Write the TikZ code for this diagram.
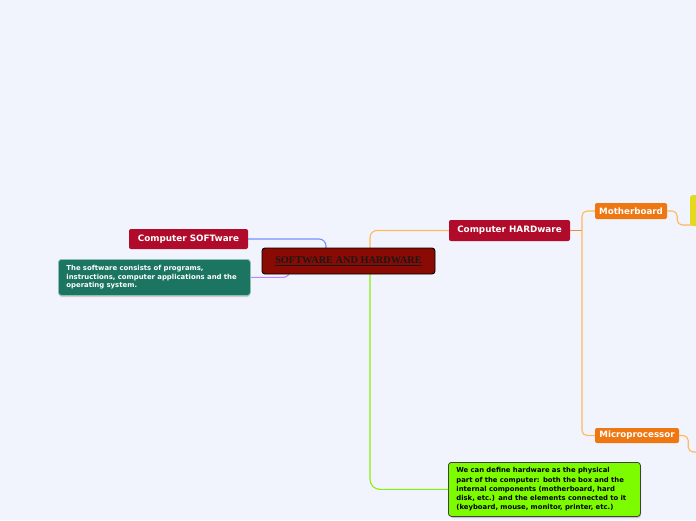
\documentclass[tikz,border=0pt]{standalone}
\usepackage{fontspec}
\setmainfont{DejaVu Sans}
\newfontfamily\serifbold{Liberation Serif}
\usetikzlibrary{calc}
\definecolor{bgc}{HTML}{F2F4FD}
\definecolor{crimson}{HTML}{B00B2B}
\definecolor{darkred}{HTML}{8A0B03}
\definecolor{tealc}{HTML}{1B7561}
\definecolor{tealb}{HTML}{8CC0B2}
\definecolor{orangec}{HTML}{EE7712}
\definecolor{limec}{HTML}{7DFC00}
\definecolor{yellowc}{HTML}{E3DA1E}
\definecolor{bluel}{HTML}{5A7CFF}
\definecolor{purplel}{HTML}{C084FF}
\definecolor{orangel}{HTML}{FFB85C}
\definecolor{greenl}{HTML}{86F00C}
\tikzset{
  topic/.style={fill=crimson, text=white, rounded corners=2pt, font=\fontsize{8.8}{10}\selectfont\bfseries, inner sep=0pt, align=center},
  sub/.style={fill=orangec, text=white, rounded corners=2pt, font=\fontsize{8.7}{10}\selectfont\bfseries, inner sep=0pt, align=center},
  note/.style={rounded corners=3pt, font=\fontsize{6.9}{8.5}\selectfont\bfseries, inner xsep=8pt, inner ysep=0pt, align=left, anchor=north west},
  conn/.style={line width=1.1pt, rounded corners=7pt}
}
\begin{document}
\begin{tikzpicture}[x=1pt,y=-1pt]
\useasboundingbox (0,0) rectangle (696,520);
\clip (0,0) rectangle (696,520);
\fill[bgc] (0,0) rectangle (696,520);

\coordinate (bluetop) at (326,249);
\coordinate (purpbot) at (290,273);
\coordinate (hwtrunk) at (370,249);
\coordinate (gtrunk) at (370,273);
\coordinate (fork) at (582,230.5);
\coordinate (yin) at (691,225);
\coordinate (mpout) at (700,452);

% nodes
\node[topic, minimum width=119pt, minimum height=20pt] (soft) at (188.5,239) {Computer SOFTware};
\fill[gray!40, rounded corners=3pt] (59,261) rectangle (250,297);
\node[note, fill=tealc, text=white, draw=tealb, line width=0.8pt, minimum width=190pt, minimum height=36pt, text width=176pt] (sdesc) at (58,259) {The software consists of programs,\\ instructions, computer applications and the\\ operating system.};
\node[topic, minimum width=121pt, minimum height=21pt] (hw) at (509.5,230.5) {Computer HARDware};
\node[sub, minimum width=72pt, minimum height=16pt] (mb) at (631,211) {Motherboard};
\node[sub, minimum width=84pt, minimum height=15pt] (mp) at (637,435.5) {Microprocessor};
\fill[gray!45, rounded corners=3pt] (450,464) rectangle (641,518);
\node[note, fill=limec, text=black, draw=black!75, line width=0.8pt, minimum width=191pt, minimum height=54pt, text width=176pt, font=\fontsize{6.85}{9.2}\selectfont\bfseries] (hdesc) at (448,462) {We can define hardware as the physical\\ part of the computer: both the box and the\\ internal components (motherboard, hard\\ disk, etc.) and the elements connected to it\\ (keyboard, mouse, monitor, printer, etc.)};
\node[fill=yellowc, rounded corners=3pt, minimum width=60pt, minimum height=31pt, inner sep=0pt] (yb) at (720,210.5) {};

% connector lines
\draw[conn, bluel!85] (soft.east) -| (bluetop);
\draw[conn, purplel] (sdesc.east) -| (purpbot);
\draw[conn, orangel] (hwtrunk) |- (hw.west);
\draw[conn, greenl, rounded corners=10pt] (gtrunk) |- (hdesc.west);
\draw[line width=1.1pt, orangec!85!white] (hw.east) -- (fork);
\draw[conn, orangel, rounded corners=5pt] (fork) |- (mb.west);
\draw[conn, orangel, rounded corners=5pt] (fork) |- (mp.west);
\draw[conn, orangel, rounded corners=5pt] (mb.east) -- ++(10,0) |- (yin);
\draw[conn, orangel, rounded corners=5pt] (mp.east) -- ++(9,0) |- (mpout);

% central node on top
\node[fill=darkred, draw=black, line width=0.9pt, rounded corners=3pt, minimum width=173pt, minimum height=26pt, inner sep=0pt, font=\serifbold\fontsize{10.3}{12}\selectfont\bfseries, text=black!90] (c) at (348.5,261) {\underline{SOFTWARE AND HARDWARE}};
\end{tikzpicture}
\end{document}
